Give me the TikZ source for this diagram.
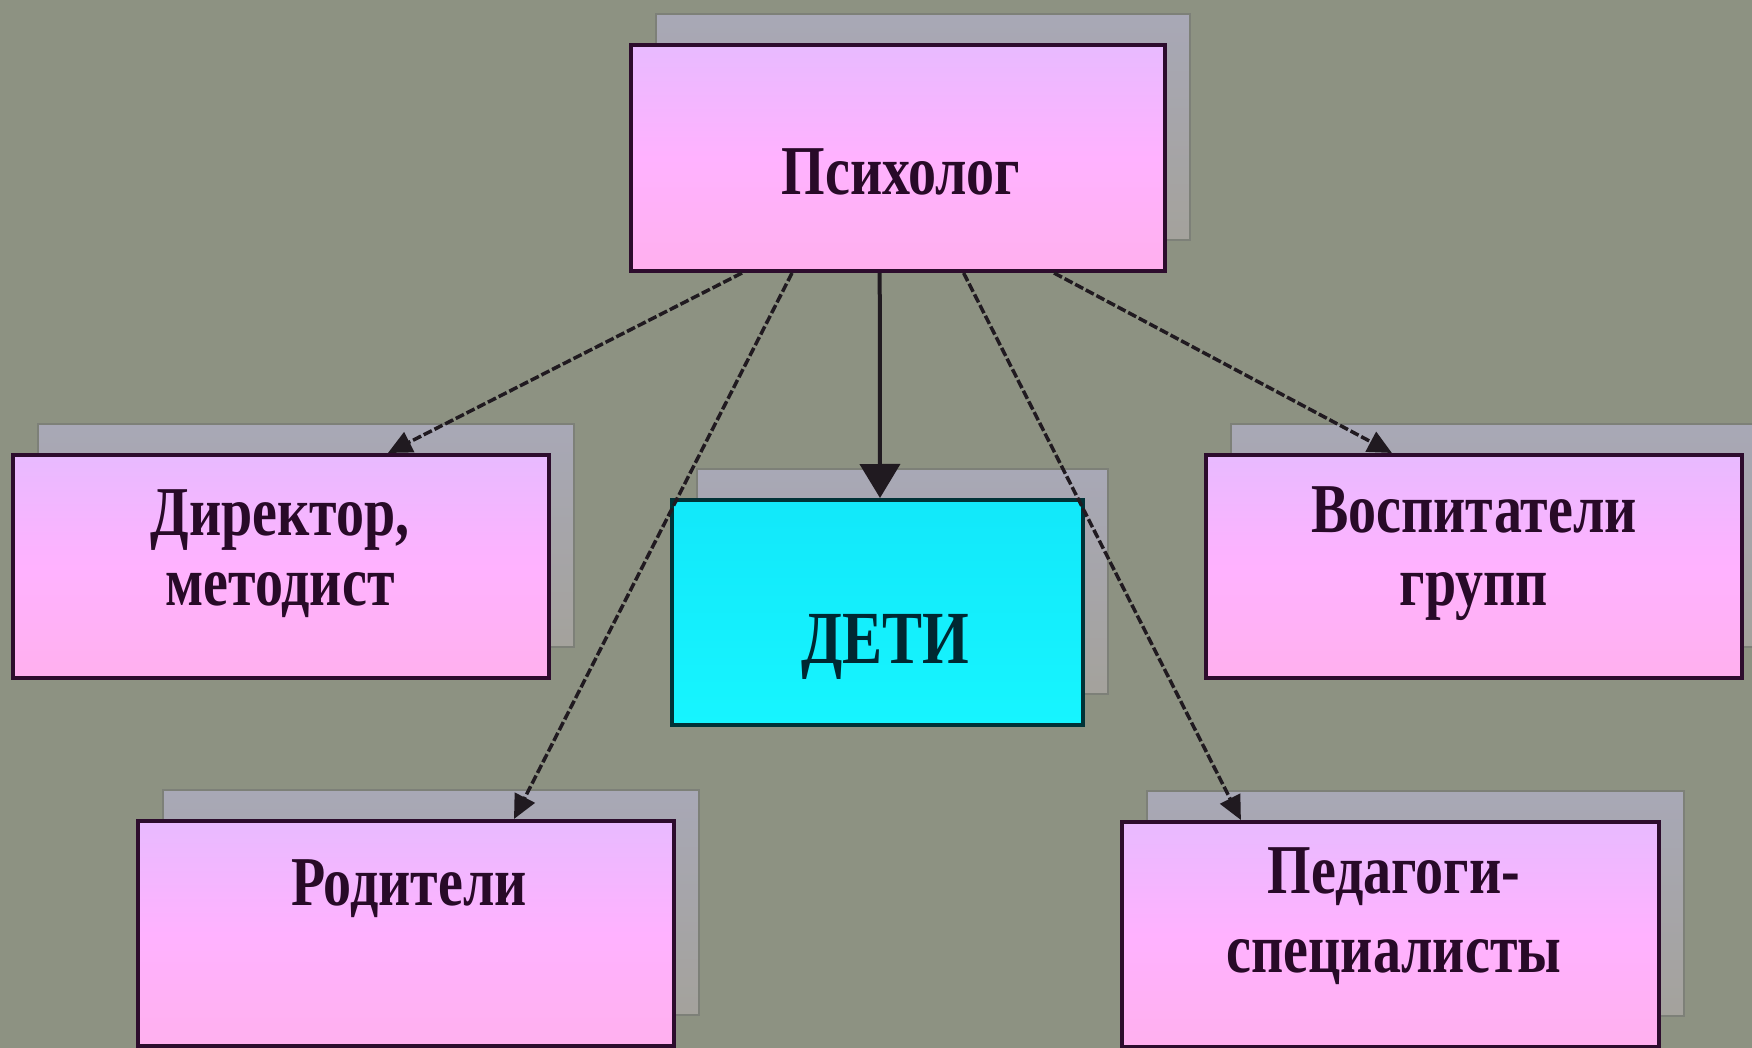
\documentclass[tikz,border=0pt]{standalone}
\usepackage{fontspec}
\newfontfamily\boxfont[FakeStretch=0.8]{Liberation Serif}
\usetikzlibrary{arrows.meta,shadows,calc}
\definecolor{bgcol}{RGB}{141,146,130}
\definecolor{pinktop}{RGB}{232,186,255}
\definecolor{pinkmid}{RGB}{255,178,255}
\definecolor{pinkbot}{RGB}{255,176,238}
\definecolor{cyantop}{RGB}{18,232,250}
\definecolor{cyanbot}{RGB}{22,245,255}
\definecolor{boxline}{RGB}{45,12,45}
\definecolor{cyanline}{RGB}{0,50,55}
\definecolor{shadtop}{RGB}{168,168,182}
\definecolor{shadbot}{RGB}{164,162,156}
\definecolor{shadline}{RGB}{125,128,120}
\definecolor{linecol}{RGB}{32,26,32}
\definecolor{txtcol}{RGB}{40,10,40}
\definecolor{txtcyan}{RGB}{0,40,50}
\tikzset{
  boxshadow/.style={general shadow={shadow xshift=25pt, shadow yshift=31pt,
      top color=shadtop, bottom color=shadbot, draw=shadline, line width=1.5pt}},
  pinkbox/.style={rectangle, draw=boxline, line width=4pt, top color=pinktop,
      bottom color=pinkbot, middle color=pinkmid, boxshadow, inner sep=0pt},
  cyanbox/.style={rectangle, draw=cyanline, line width=4pt, top color=cyantop,
      bottom color=cyanbot, boxshadow, inner sep=0pt},
  conn/.style={line width=3.5pt, draw=linecol, dash pattern=on 9pt off 3pt,
      -{Triangle[length=24pt,width=22pt]}},
  vconn/.style={line width=4pt, draw=linecol, -{Triangle[length=34pt,width=40pt]}},
  lbl/.style={font=\boxfont\bfseries\fontsize{70}{70}\selectfont, text=txtcol,
      inner sep=0pt, anchor=base},
}
\begin{document}
\begin{tikzpicture}[x=1pt,y=-1pt]
\fill[bgcol] (0,0) rectangle (1752,1048);
\useasboundingbox (0,0) rectangle (1752,1048);

% boxes
\node[pinkbox, minimum width=534pt, minimum height=226pt] (psy) at (898,158) {};
\node[pinkbox, minimum width=536pt, minimum height=223pt] (dir) at (281,566.5) {};
\node[cyanbox, minimum width=411pt, minimum height=225pt] (deti) at (877.5,612.5) {};
\node[pinkbox, minimum width=536pt, minimum height=223pt] (vos) at (1474,566.5) {};
\node[pinkbox, minimum width=536pt, minimum height=225pt] (rod) at (406,933.5) {};
\node[pinkbox, minimum width=537pt, minimum height=225pt] (ped) at (1390.5,934.5) {};

% labels
\node[lbl] (tpsy) at (901,195) {Психолог};
\node[lbl] (tdir1) at (280,535) {Директор,};
\node[lbl] (tdir2) at (280,605) {методист};
\node[lbl, text=txtcyan, font=\boxfont\bfseries\fontsize{75}{75}\selectfont] (tdeti) at (885,663) {ДЕТИ};
\node[lbl] (tvos1) at (1474,532) {Воспитатели};
\node[lbl] (tvos2) at (1474,605) {групп};
\node[lbl] (trod) at (409,905) {Родители};
\node[lbl] (tped1) at (1394,893) {Педагоги-};
\node[lbl] (tped2) at (1394,972) {специалисты};

% connectors
\draw[conn] ($(psy.south west)!0.21!(psy.south east)$) -- ($(dir.north west)!0.698!(dir.north east)$);
\draw[conn] ($(psy.south west)!0.303!(psy.south east)$) -- ($(rod.north west)!0.70!(rod.north east)$);
\draw[vconn] ($(psy.south west)!0.466!(psy.south east)$) -- ($(deti.north west)!0.506!(deti.north east)$);
\draw[conn] ($(psy.south west)!0.622!(psy.south east)$) -- ($(ped.north west)!0.2235!(ped.north east)$);
\draw[conn] ($(psy.south west)!0.79!(psy.south east)$) -- ($(vos.north west)!0.348!(vos.north east)$);
\end{tikzpicture}
\end{document}
